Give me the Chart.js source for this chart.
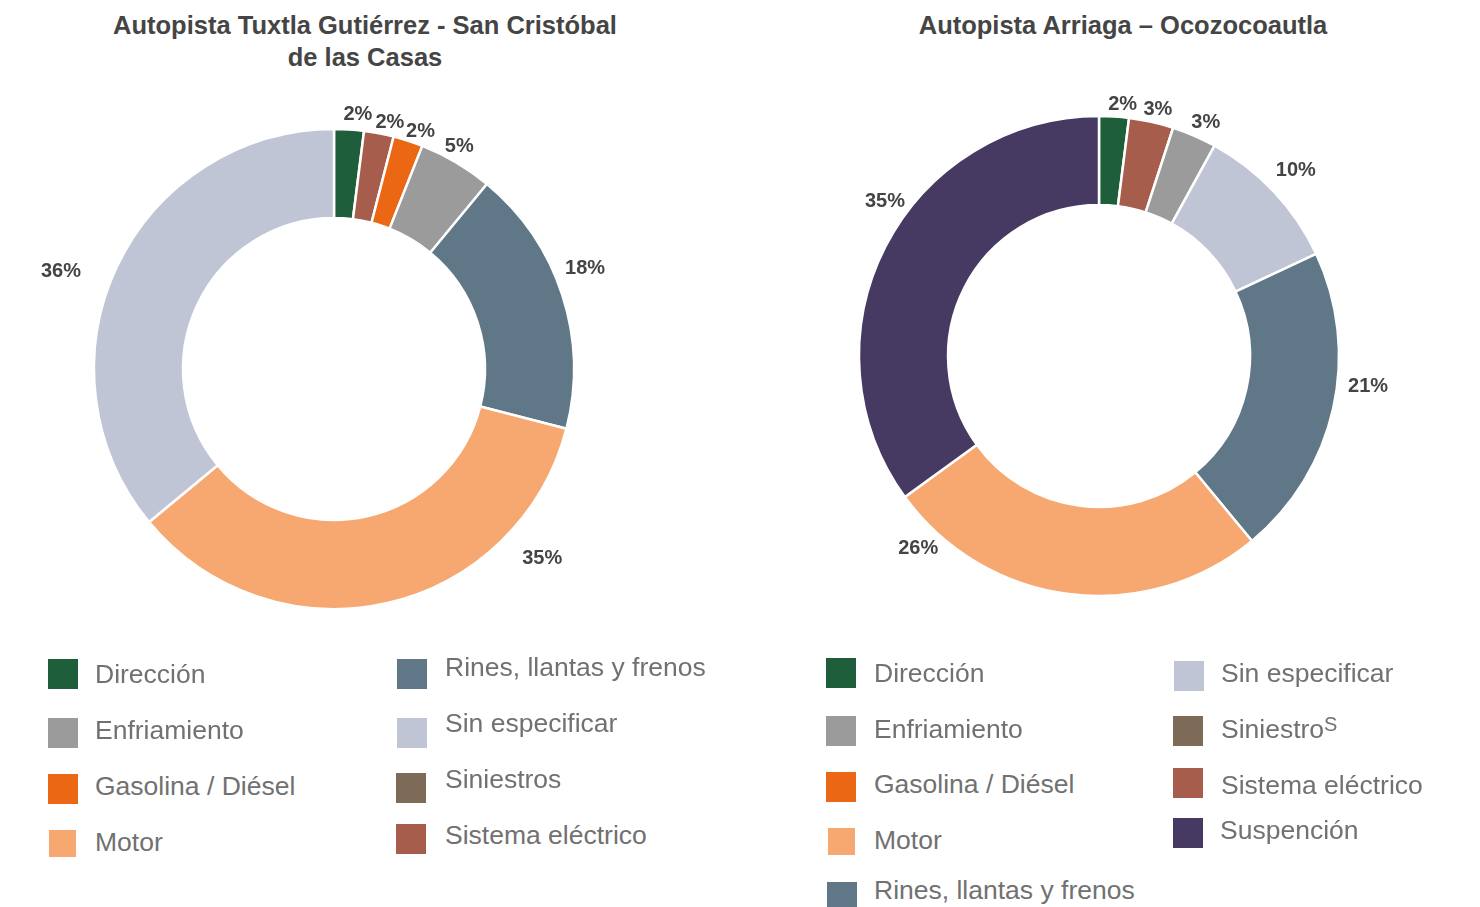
<!DOCTYPE html>
<html lang="es">
<head>
<meta charset="utf-8">
<title>Fallas por autopista</title>
<script src="https://cdn.jsdelivr.net/npm/chart.js@4/dist/chart.umd.min.js"></script>
<style>
  html, body { margin:0; padding:0; background:#ffffff; }
  body { width:1480px; height:907px; position:relative; overflow:hidden;
         font-family:"Liberation Sans", Arial, Helvetica, sans-serif; }
  canvas { position:absolute; top:0; }
  .title { position:absolute; font-weight:bold; font-size:25.5px; line-height:32px;
           color:#454545; text-align:center; white-space:nowrap; }
  .sw { position:absolute; }
  .lt { position:absolute; font-size:26.5px; line-height:30px; color:#717171; white-space:nowrap; }
  .sup { font-size:20px; position:relative; top:-7px; }
</style>
</head>
<body>
<div class="title" id="t1" style="left:65px; top:9px; width:600px;">Autopista Tuxtla Gutiérrez - San Cristóbal<br>de las Casas</div>
<div class="title" id="t2" style="left:823px; top:9px; width:600px;">Autopista Arriaga – Ocozocoautla</div>
<canvas id="c1" width="668" height="738" style="left:0px;"></canvas>
<canvas id="c2" width="660" height="712" style="left:769px;"></canvas>
<div id="legends"></div>
<script>
// ---- Data ----
const leftCategories = ['Dirección', 'Sistema eléctrico', 'Gasolina / Diésel', 'Enfriamiento', 'Rines, llantas y frenos', 'Motor', 'Sin especificar'];
const leftValues = [2, 2, 2, 5, 18, 35, 36];

const rightCategories = ['Dirección', 'Sistema eléctrico', 'Enfriamiento', 'Sin especificar', 'Rines, llantas y frenos', 'Motor', 'Suspención'];
const rightValues = [2, 3, 3, 10, 21, 26, 35];

const leftLegendLabels = ['Dirección', 'Enfriamiento', 'Gasolina / Diésel', 'Motor', 'Rines, llantas y frenos', 'Sin especificar', 'Siniestros', 'Sistema eléctrico'];
const rightLegendLabels = ['Dirección', 'Enfriamiento', 'Gasolina / Diésel', 'Motor', 'Rines, llantas y frenos', 'Sin especificar', 'Siniestros', 'Sistema eléctrico', 'Suspención'];

// ---- Styles ----
const categoryColors = {
  'Dirección': '#1F5E3B',
  'Enfriamiento': '#9B9B9B',
  'Gasolina / Diésel': '#EB6714',
  'Motor': '#F6A870',
  'Rines, llantas y frenos': '#5F7786',
  'Sin especificar': '#C0C5D6',
  'Siniestros': '#7D6B58',
  'Sistema eléctrico': '#A65D4C',
  'Suspención': '#463A62'
};

// label placement: fraction along each slice's arc, and distance beyond the outer edge
const leftLabelFrac = [0.74, 0.76, 0.76, 0.42, 0.437, 0.22, 0.459];
const leftLabelOffset = [17.6, 14.7, 14.6, 17, 31, 40.7, 50.4];
const rightLabelFrac = [0.74, 0.57, 0.59, 0.49, 0.415, 0.887, 0.572];
const rightLabelOffset = [14.6, 14.9, 18.7, 31.6, 30.6, 23.1, 24.8];

// legend layout: [squareX, squareTop, squareSize, textX, textBaseline]
const leftLegendLayout = [
  [48, 659, 30, 95, 683], [48, 718, 30, 95, 739], [48, 774, 30, 95, 795], [49, 830, 27, 95, 851],
  [397, 659, 30, 445, 676], [397, 718, 30, 445, 732], [396, 773, 30, 445, 788], [396, 824, 30, 445, 844]
];
const rightLegendLayout = [
  [826, 658, 30, 874, 682], [826, 716, 30, 874, 738], [826, 772, 30, 874, 793], [828, 828, 27, 874, 849],
  [827, 882, 30, 874, 899],
  [1174, 661, 30, 1221, 682], [1173, 716, 30, 1221, 738], [1173, 768, 30, 1221, 794], [1173, 818, 30, 1220, 839]
];

const pctLabels = {
  id: 'pctLabels',
  afterDatasetsDraw(chart, args, opts) {
    const ctx = chart.ctx;
    const meta = chart.getDatasetMeta(0);
    const data = chart.data.datasets[0].data;
    ctx.save();
    ctx.font = 'bold 20px "Liberation Sans", Arial, sans-serif';
    ctx.fillStyle = '#444444';
    ctx.textAlign = 'center';
    ctx.textBaseline = 'alphabetic';
    meta.data.forEach((arc, i) => {
      const p = arc.getProps(['x', 'y', 'startAngle', 'endAngle', 'outerRadius'], true);
      const a = p.startAngle + (p.endAngle - p.startAngle) * opts.frac[i];
      const r = p.outerRadius + opts.offset[i];
      ctx.fillText(data[i] + '%', p.x + Math.cos(a) * r, p.y + Math.sin(a) * r + 7.2);
    });
    ctx.restore();
  }
};

function makeChart(id, cats, vals, frac, offset) {
  return new Chart(document.getElementById(id), {
    type: 'doughnut',
    data: {
      labels: cats,
      datasets: [{
        data: vals,
        backgroundColor: cats.map(c => categoryColors[c]),
        borderColor: '#ffffff',
        borderWidth: 2.5,
        hoverOffset: 0
      }]
    },
    options: {
      responsive: false,
      animation: false,
      devicePixelRatio: 1,
      radius: 240,
      cutout: '62.9%',
      rotation: 0,
      layout: { padding: 0 },
      plugins: {
        legend: { display: false },
        tooltip: { enabled: false },
        title: { display: false },
        pctLabels: { frac: frac, offset: offset }
      }
    },
    plugins: [pctLabels]
  });
}

makeChart('c1', leftCategories, leftValues, leftLabelFrac, leftLabelOffset);
makeChart('c2', rightCategories, rightValues, rightLabelFrac, rightLabelOffset);

function buildLegend(labels, layout, isRight) {
  const host = document.getElementById('legends');
  labels.forEach((lab, i) => {
    const [sx, sy, ss, tx, tb] = layout[i];
    const sw = document.createElement('div');
    sw.className = 'sw';
    sw.style.left = sx + 'px'; sw.style.top = sy + 'px';
    sw.style.width = ss + 'px'; sw.style.height = ss + 'px';
    sw.style.background = categoryColors[lab];
    host.appendChild(sw);
    const t = document.createElement('div');
    t.className = 'lt';
    t.style.left = tx + 'px'; t.style.top = (tb - 24) + 'px';
    if (isRight && lab === 'Siniestros') {
      t.textContent = lab.slice(0, -1);
      const s = document.createElement('span');
      s.className = 'sup';
      s.textContent = 'S';
      t.appendChild(s);
    } else {
      t.textContent = lab;
    }
    host.appendChild(t);
  });
}
buildLegend(leftLegendLabels, leftLegendLayout, false);
buildLegend(rightLegendLabels, rightLegendLayout, true);
</script>
</body>
</html>
